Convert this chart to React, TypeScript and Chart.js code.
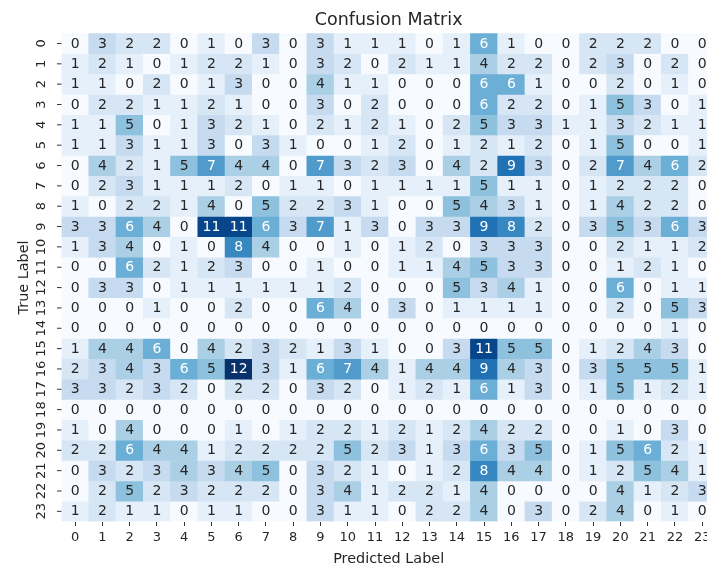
import React, { useEffect, useRef } from "react";
import { Chart, registerables } from "chart.js";

Chart.register(...registerables);

const chartTitle = "Confusion Matrix";
const xAxisTitle = "Predicted Label";
const yAxisTitle = "True Label";

const predictedLabels = ["0","1","2","3","4","5","6","7","8","9","10","11","12","13","14","15","16","17","18","19","20","21","22","23"];
const trueLabels = ["0","1","2","3","4","5","6","7","8","9","10","11","12","13","14","15","16","17","18","19","20","21","22","23"];

const row0 = [0,3,2,2,0,1,0,3,0,3,1,1,1,0,1,6,1,0,0,2,2,2,0,0];
const row1 = [1,2,1,0,1,2,2,1,0,3,2,0,2,1,1,4,2,2,0,2,3,0,2,0];
const row2 = [1,1,0,2,0,1,3,0,0,4,1,1,0,0,0,6,6,1,0,0,2,0,1,0];
const row3 = [0,2,2,1,1,2,1,0,0,3,0,2,0,0,0,6,2,2,0,1,5,3,0,1];
const row4 = [1,1,5,0,1,3,2,1,0,2,1,2,1,0,2,5,3,3,1,1,3,2,1,1];
const row5 = [1,1,3,1,1,3,0,3,1,0,0,1,2,0,1,2,1,2,0,1,5,0,0,1];
const row6 = [0,4,2,1,5,7,4,4,0,7,3,2,3,0,4,2,9,3,0,2,7,4,6,2];
const row7 = [0,2,3,1,1,1,2,0,1,1,0,1,1,1,1,5,1,1,0,1,2,2,2,0];
const row8 = [1,0,2,2,1,4,0,5,2,2,3,1,0,0,5,4,3,1,0,1,4,2,2,0];
const row9 = [3,3,6,4,0,11,11,6,3,7,1,3,0,3,3,9,8,2,0,3,5,3,6,3];
const row10 = [1,3,4,0,1,0,8,4,0,0,1,0,1,2,0,3,3,3,0,0,2,1,1,2];
const row11 = [0,0,6,2,1,2,3,0,0,1,0,0,1,1,4,5,3,3,0,0,1,2,1,0];
const row12 = [0,3,3,0,1,1,1,1,1,1,2,0,0,0,5,3,4,1,0,0,6,0,1,1];
const row13 = [0,0,0,1,0,0,2,0,0,6,4,0,3,0,1,1,1,1,0,0,2,0,5,3];
const row14 = [0,0,0,0,0,0,0,0,0,0,0,0,0,0,0,0,0,0,0,0,0,0,1,0];
const row15 = [1,4,4,6,0,4,2,3,2,1,3,1,0,0,3,11,5,5,0,1,2,4,3,0];
const row16 = [2,3,4,3,6,5,12,3,1,6,7,4,1,4,4,9,4,3,0,3,5,5,5,1];
const row17 = [3,3,2,3,2,0,2,2,0,3,2,0,1,2,1,6,1,3,0,1,5,1,2,1];
const row18 = [0,0,0,0,0,0,0,0,0,0,0,0,0,0,0,0,0,0,0,0,0,0,0,0];
const row19 = [1,0,4,0,0,0,1,0,1,2,2,1,2,1,2,4,2,2,0,0,1,0,3,0];
const row20 = [2,2,6,4,4,1,2,2,2,2,5,2,3,1,3,6,3,5,0,1,5,6,2,1];
const row21 = [0,3,2,3,4,3,4,5,0,3,2,1,0,1,2,8,4,4,0,1,2,5,4,1];
const row22 = [0,2,5,2,3,2,2,2,0,3,4,1,2,2,1,4,0,0,0,0,4,1,2,3];
const row23 = [1,2,1,1,0,1,1,0,0,3,1,1,0,2,2,4,0,3,0,2,4,0,1,0];

const matrix = [row0,row1,row2,row3,row4,row5,row6,row7,row8,row9,row10,row11,row12,row13,row14,row15,row16,row17,row18,row19,row20,row21,row22,row23];

const BLUES = ["#f7fbff","#deebf7","#c6dbef","#9ecae1","#6baed6","#4292c6","#2171b5","#08519c","#08306b"];

function hexToRgb(h: string): number[] {
  return [parseInt(h.slice(1, 3), 16), parseInt(h.slice(3, 5), 16), parseInt(h.slice(5, 7), 16)];
}

function bluesRgb(t: number): number[] {
  const c = Math.max(0, Math.min(1, t)) * (BLUES.length - 1);
  const i = Math.min(BLUES.length - 2, Math.floor(c));
  const f = c - i;
  const a = hexToRgb(BLUES[i]);
  const b = hexToRgb(BLUES[i + 1]);
  return a.map((v, k) => v + (b[k] - v) * f);
}

function rgbStr(c: number[]): string {
  return `rgb(${Math.round(c[0])},${Math.round(c[1])},${Math.round(c[2])})`;
}

function textColorFor(c: number[]): string {
  const lin = c.map((v) => {
    const s = v / 255;
    return s <= 0.03928 ? s / 12.92 : Math.pow((s + 0.055) / 1.055, 2.4);
  });
  const lum = 0.2126 * lin[0] + 0.7152 * lin[1] + 0.0722 * lin[2];
  return lum > 0.408 ? "#262626" : "#ffffff";
}

const VMAX = Math.max(...matrix.map((r) => Math.max(...r)));

const W = 730;
const H = 567;
const AREA_LEFT = 61.5;
const AREA_TOP = 33.3;
const AREA_RIGHT = 715.8;
const AREA_BOTTOM = 521.5;
const FONT = "'DejaVu Sans', sans-serif";
const INK = "#262626";

const annotatePlugin = {
  id: "annotate",
  afterDatasetsDraw(chart: any) {
    const { ctx, scales, chartArea } = chart;
    const xs = scales.x;
    const ys = scales.y;
    ctx.save();
    // cell values
    ctx.font = `14px ${FONT}`;
    ctx.textAlign = "center";
    ctx.textBaseline = "middle";
    matrix.forEach((row, r) => {
      row.forEach((v, c) => {
        const col = bluesRgb(v / VMAX);
        ctx.fillStyle = textColorFor(col);
        ctx.fillText(String(v), xs.getPixelForValue(c), ys.getPixelForValue(r) + 0.5);
      });
    });
    // y ticks + labels
    ctx.strokeStyle = "#333333";
    ctx.lineWidth = 1;
    ctx.fillStyle = INK;
    ctx.font = `13px ${FONT}`;
    trueLabels.forEach((lab, r) => {
      const y = ys.getPixelForValue(r);
      ctx.beginPath();
      ctx.moveTo(chartArea.left - 4.5, y);
      ctx.lineTo(chartArea.left, y);
      ctx.stroke();
      ctx.save();
      ctx.translate(42, y);
      ctx.rotate(-Math.PI / 2);
      ctx.textAlign = "center";
      ctx.textBaseline = "middle";
      ctx.fillText(lab, 0, 0);
      ctx.restore();
    });
    // y axis title
    ctx.save();
    ctx.font = `14.4px ${FONT}`;
    ctx.translate(24, (chartArea.top + chartArea.bottom) / 2);
    ctx.rotate(-Math.PI / 2);
    ctx.textAlign = "center";
    ctx.textBaseline = "middle";
    ctx.fillText(yAxisTitle, 0, 0);
    ctx.restore();
    // x axis title
    ctx.font = `14.4px ${FONT}`;
    ctx.textAlign = "center";
    ctx.textBaseline = "middle";
    ctx.fillText(xAxisTitle, (chartArea.left + chartArea.right) / 2, 559.5);
    // chart title
    ctx.font = `17.5px ${FONT}`;
    ctx.fillText(chartTitle, (chartArea.left + chartArea.right) / 2, 20);
    ctx.restore();
  },
};

export default function App() {
  const ref = useRef<HTMLCanvasElement | null>(null);
  useEffect(() => {
    if (!ref.current) return;
    const chart = new Chart(ref.current, {
      type: "bar",
      data: {
        labels: predictedLabels,
        datasets: matrix.map((row, r) => ({
          label: trueLabels[r],
          data: row.map(() => [r - 0.5, r + 0.5]),
          backgroundColor: row.map((v) => rgbStr(bluesRgb(v / VMAX))),
          borderWidth: 0,
          barPercentage: 1,
          categoryPercentage: 1,
          grouped: false,
        })),
      } as any,
      options: {
        responsive: false,
        animation: false,
        events: [],
        devicePixelRatio: 1,
        layout: { padding: { left: AREA_LEFT, top: AREA_TOP, right: W - AREA_RIGHT, bottom: 0 } },
        plugins: {
          legend: { display: false },
          title: { display: false },
          tooltip: { enabled: false },
        },
        scales: {
          x: {
            type: "category",
            offset: true,
            grid: {
              display: true,
              drawOnChartArea: false,
              drawTicks: true,
              tickLength: 4.5,
              tickColor: "#333333",
              tickWidth: 1,
              offset: false,
            },
            border: { display: false },
            ticks: {
              color: INK,
              font: { family: FONT, size: 13 },
              padding: 3.5,
              minRotation: 0,
              maxRotation: 0,
              autoSkip: false,
            },
            title: { display: false },
            afterFit: (s: any) => {
              s.height = H - AREA_BOTTOM;
            },
          },
          y: {
            type: "linear",
            reverse: true,
            min: -0.5,
            max: 23.5,
            display: false,
          },
        },
      } as any,
      plugins: [annotatePlugin],
    });
    return () => chart.destroy();
  }, []);

  return (
    <div
      style={{
        position: "fixed",
        left: 0,
        top: 0,
        width: 707,
        height: 567,
        overflow: "hidden",
        background: "#ffffff",
      }}
    >
      <canvas ref={ref} width={W} height={H} style={{ display: "block", width: W, height: H }} />
    </div>
  );
}
